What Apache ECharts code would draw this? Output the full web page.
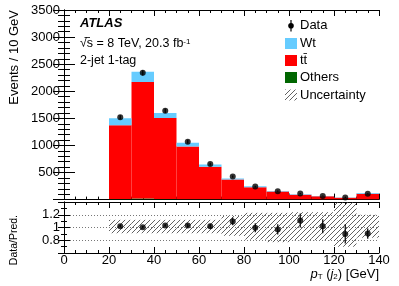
<!DOCTYPE html>
<html><head><meta charset="utf-8">
<script src="https://cdn.jsdelivr.net/npm/echarts@6/dist/echarts.min.js"></script>
<style>html,body{margin:0;padding:0;background:#fff}#c{width:399px;height:286px}</style>
</head><body><div id="c"></div>
<script>
// bins (lower edges, GeV) – width 10 GeV
const binLo = [20, 30, 40, 50, 60, 70, 80, 90, 100, 110, 120, 130];
const binW = 10;
// stacked predictions (events / 10 GeV)
const others = [12, 18, 12, 8, 5, 3, 2, 2, 1, 1, 1, 1];
const ttbar  = [1359, 2151, 1496, 973, 600, 366, 226, 148, 87, 59, 34, 107];
const wt     = [129, 191, 92, 69, 43, 21, 19, 10, 13, 7, 6, 12];
// data
const dataVals = [1520, 2340, 1640, 1070, 655, 425, 240, 155, 112, 68, 37, 108];
const dataErr  = [39, 48, 40, 33, 26, 21, 15, 12, 11, 8, 6, 10];
// ratio panel
const ratioVals = [1.02, 1.005, 1.03, 1.03, 1.02, 1.095, 0.995, 0.97, 1.11, 1.02, 0.90, 0.905];
const ratioErr  = [0.02, 0.02, 0.02, 0.03, 0.04, 0.06, 0.07, 0.08, 0.11, 0.11, 0.15, 0.08];
const bandLo = [0.91, 0.91, 0.91, 0.91, 0.91, 0.87, 0.81, 0.77, 0.80, 0.80, 0.70, 0.84];
const bandHi = [1.12, 1.12, 1.12, 1.12, 1.12, 1.18, 1.23, 1.23, 1.24, 1.24, 1.43, 1.20];
// axis ticks
const xTicks = {min: 0, max: 140, interval: 20};
const yTicks = {min: 0, max: 3500, interval: 500};
const rTicks = {min: 0.6, max: 1.4, interval: 0.2};

const FONT = 'Liberation Sans, Arial, Helvetica, sans-serif';
const C_WT = '#66ccff', C_TT = '#ff0000', C_OT = '#006600';

// hatch pattern
function makeHatch() {
  const s = 5, cv = document.createElement('canvas');
  cv.width = s; cv.height = s;
  const g = cv.getContext('2d');
  g.strokeStyle = '#3a3a3a'; g.lineWidth = 0.8;
  g.beginPath();
  g.moveTo(0, s); g.lineTo(s, 0);
  g.moveTo(-1, 1); g.lineTo(1, -1);
  g.moveTo(s - 1, s + 1); g.lineTo(s + 1, s - 1);
  g.stroke();
  return cv;
}
const hatch = {image: makeHatch(), repeat: 'repeat'};

// stacked layer data
const base0 = binLo.map(() => 0);
const top1 = others.slice();
const top2 = top1.map((v, i) => v + ttbar[i]);
const top3 = top2.map((v, i) => v + wt[i]);
function layer(bottoms, tops) {
  return binLo.map((x, i) => [x, x + binW, bottoms[i], tops[i]]);
}
function rectItem(fill) {
  return function (params, api) {
    const p0 = api.coord([api.value(0), api.value(3)]);
    const p1 = api.coord([api.value(1), api.value(2)]);
    return {type: 'rect', shape: {x: p0[0], y: p0[1], width: p1[0] - p0[0], height: p1[1] - p0[1]},
      style: {fill: fill}};
  };
}
function errItem(params, api) {
  const x = api.value(0), lo = api.value(1), hi = api.value(2);
  const a = api.coord([x, lo]), b = api.coord([x, hi]);
  return {type: 'line', shape: {x1: a[0], y1: a[1], x2: b[0], y2: b[1]}, style: {stroke: '#000', lineWidth: 1.2}};
}
const centers = binLo.map(x => x + binW / 2);

function xAxisCommon(gi, pos, showLabel) {
  return {
    type: 'value', gridIndex: gi, position: pos, min: xTicks.min, max: xTicks.max, interval: xTicks.interval,
    axisLine: {show: true, onZero: false, lineStyle: {color: '#000', width: 1}},
    axisTick: {show: true, inside: true, length: 6, lineStyle: {color: '#000'}},
    minorTick: {show: true, splitNumber: 4, length: 3, lineStyle: {color: '#000'}},
    axisLabel: {show: showLabel, color: '#000', fontSize: 13, fontFamily: FONT, margin: 1},
    splitLine: {show: false}
  };
}

const option = {
  animation: false,
  backgroundColor: '#fff',
  grid: [
    {left: 64, top: 10, width: 315, height: 189.6},
    {left: 64, top: 202, width: 315, height: 51}
  ],
  xAxis: [
    xAxisCommon(0, 'bottom', false),
    xAxisCommon(0, 'top', false),
    xAxisCommon(1, 'bottom', true),
    xAxisCommon(1, 'top', false)
  ],
  yAxis: [
    {type: 'value', gridIndex: 0, position: 'left', min: yTicks.min, max: yTicks.max, interval: yTicks.interval,
      axisLine: {show: true, lineStyle: {color: '#000'}},
      axisTick: {show: true, inside: true, length: 11, lineStyle: {color: '#000'}},
      minorTick: {show: true, splitNumber: 5, length: 6, lineStyle: {color: '#000'}},
      axisLabel: {color: '#000', fontSize: 13, fontFamily: FONT, margin: 4,
        formatter: v => v === 0 ? '' : String(v)},
      splitLine: {show: false}},
    {type: 'value', gridIndex: 0, position: 'right', min: yTicks.min, max: yTicks.max, interval: yTicks.interval,
      axisLine: {show: true, lineStyle: {color: '#000'}},
      axisTick: {show: true, inside: true, length: 11, lineStyle: {color: '#000'}},
      minorTick: {show: true, splitNumber: 5, length: 6, lineStyle: {color: '#000'}},
      axisLabel: {show: false}, splitLine: {show: false}},
    {type: 'value', gridIndex: 1, position: 'left', min: rTicks.min, max: rTicks.max, interval: rTicks.interval,
      axisLine: {show: true, lineStyle: {color: '#000'}},
      axisTick: {show: true, inside: true, length: 6, lineStyle: {color: '#000'}},
      minorTick: {show: true, splitNumber: 2, length: 3, lineStyle: {color: '#000'}},
      axisLabel: {color: '#000', fontSize: 13, fontFamily: FONT, margin: 4,
        formatter: v => (v < 0.7 || v > 1.3) ? '' : String(+v.toFixed(1))},
      splitLine: {show: true, lineStyle: {color: '#777', type: [1, 2], width: 1}}},
    {type: 'value', gridIndex: 1, position: 'right', min: rTicks.min, max: rTicks.max, interval: rTicks.interval,
      axisLine: {show: true, lineStyle: {color: '#000'}},
      axisTick: {show: true, inside: true, length: 6, lineStyle: {color: '#000'}},
      minorTick: {show: true, splitNumber: 2, length: 3, lineStyle: {color: '#000'}},
      axisLabel: {show: false}, splitLine: {show: false}}
  ],
  series: [
    {type: 'custom', name: 'Others', xAxisIndex: 0, yAxisIndex: 0, clip: true, z: 2,
      renderItem: rectItem(C_OT), encode: {x: [0, 1], y: [2, 3]}, data: layer(base0, top1)},
    {type: 'custom', name: 'ttbar', xAxisIndex: 0, yAxisIndex: 0, clip: true, z: 2,
      renderItem: rectItem(C_TT), encode: {x: [0, 1], y: [2, 3]}, data: layer(top1, top2)},
    {type: 'custom', name: 'Wt', xAxisIndex: 0, yAxisIndex: 0, clip: true, z: 2,
      renderItem: rectItem(C_WT), encode: {x: [0, 1], y: [2, 3]}, data: layer(top2, top3)},
    {type: 'custom', name: 'DataErr', xAxisIndex: 0, yAxisIndex: 0, clip: true, z: 4,
      renderItem: errItem, encode: {x: 0, y: [1, 2]},
      data: centers.map((c, i) => [c, dataVals[i] - dataErr[i], dataVals[i] + dataErr[i]])},
    {type: 'scatter', name: 'Data', xAxisIndex: 0, yAxisIndex: 0, z: 5, symbol: 'circle', symbolSize: 6,
      itemStyle: {color: '#000'}, data: centers.map((c, i) => [c, dataVals[i]])},
    {type: 'custom', name: 'Band', xAxisIndex: 2, yAxisIndex: 2, clip: true, z: 2,
      renderItem: rectItem(hatch), encode: {x: [0, 1], y: [2, 3]},
      data: binLo.map((x, i) => [x, x + binW, bandLo[i], bandHi[i]])},
    {type: 'custom', name: 'RatioErr', xAxisIndex: 2, yAxisIndex: 2, clip: true, z: 4,
      renderItem: errItem, encode: {x: 0, y: [1, 2]},
      data: centers.map((c, i) => [c, ratioVals[i] - ratioErr[i], ratioVals[i] + ratioErr[i]])},
    {type: 'scatter', name: 'Ratio', xAxisIndex: 2, yAxisIndex: 2, z: 5, symbol: 'circle', symbolSize: 6,
      itemStyle: {color: '#000'}, data: centers.map((c, i) => [c, ratioVals[i]])}
  ],
  graphic: [
    {type: 'text', x: 14, y: 10, rotation: Math.PI / 2,
      style: {text: 'Events / 10 GeV', font: '13px ' + FONT, fill: '#000', align: 'right', verticalAlign: 'middle'}},
    {type: 'text', x: 14, y: 215, rotation: Math.PI / 2,
      style: {text: 'Data/Pred.', font: '10.5px ' + FONT, fill: '#000', align: 'right', verticalAlign: 'middle'}},
    {type: 'text', x: 379, y: 274,
      style: {text: '{i|p}{s|T}{n| (}{i|j}{s|2}{n|) [GeV]}', align: 'right', verticalAlign: 'middle', fill: '#000',
        rich: {
          i: {fontFamily: FONT, fontStyle: 'italic', fontSize: 13, fill: '#000'},
          s: {fontFamily: FONT, fontSize: 8, verticalAlign: 'bottom', fill: '#000'},
          n: {fontFamily: FONT, fontSize: 13, fill: '#000'}
        }}},
    {type: 'text', x: 80, y: 23,
      style: {text: 'ATLAS', font: 'italic bold 13px ' + FONT, fill: '#000', verticalAlign: 'middle'}},
    {type: 'text', x: 80, y: 44,
      style: {text: '{n|√s = 8 TeV, 20.3 fb}{s|-1}', verticalAlign: 'middle', fill: '#000',
        rich: {
          n: {fontFamily: FONT, fontSize: 12.5, fill: '#000'},
          s: {fontFamily: FONT, fontSize: 8, verticalAlign: 'top', fill: '#000'}
        }}},
    {type: 'line', shape: {x1: 84.5, y1: 37.5, x2: 90, y2: 37.5}, style: {stroke: '#000', lineWidth: 0.8}},
    {type: 'text', x: 80, y: 61,
      style: {text: '2-jet 1-tag', font: '12.5px ' + FONT, fill: '#000', verticalAlign: 'middle'}},
    // legend
    {type: 'line', shape: {x1: 291, y1: 20, x2: 291, y2: 31.5}, style: {stroke: '#000', lineWidth: 1.2}},
    {type: 'circle', shape: {cx: 291, cy: 25.7, r: 2.8}, style: {fill: '#000'}},
    {type: 'text', x: 300, y: 25.7, style: {text: 'Data', font: '13px ' + FONT, fill: '#000', verticalAlign: 'middle'}},
    {type: 'rect', shape: {x: 285, y: 38, width: 12, height: 11}, style: {fill: C_WT}},
    {type: 'text', x: 300, y: 43.3, style: {text: 'Wt', font: '13px ' + FONT, fill: '#000', verticalAlign: 'middle'}},
    {type: 'rect', shape: {x: 285, y: 55, width: 12, height: 11}, style: {fill: C_TT}},
    {type: 'text', x: 300, y: 60, style: {text: 't\u0074\u0304', font: '13px ' + FONT, fill: '#000', verticalAlign: 'middle'}},
    {type: 'rect', shape: {x: 285, y: 72, width: 12, height: 11}, style: {fill: C_OT}},
    {type: 'text', x: 300, y: 77.7, style: {text: 'Others', font: '13px ' + FONT, fill: '#000', verticalAlign: 'middle'}},
    {type: 'rect', shape: {x: 285, y: 89.5, width: 12, height: 11}, style: {fill: hatch}},
    {type: 'text', x: 300, y: 95, style: {text: 'Uncertainty', font: '13px ' + FONT, fill: '#000', verticalAlign: 'middle'}}
  ]
};
const chart = echarts.init(document.getElementById('c'), null, {renderer: 'canvas'});
chart.setOption(option);
</script>
</body></html>
